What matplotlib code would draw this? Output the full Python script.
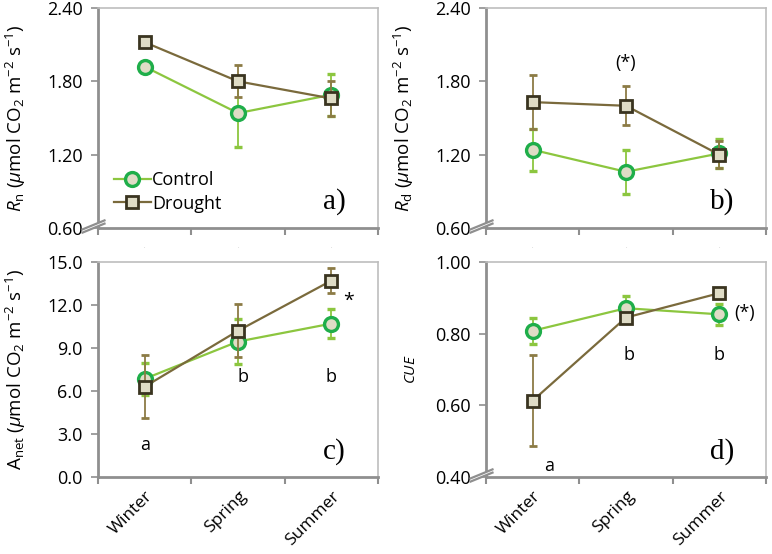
import matplotlib
matplotlib.use('Agg')
import matplotlib.pyplot as plt
from matplotlib.patches import Polygon

# ---------------- data ----------------
seasons = ['Winter', 'Spring', 'Summer']

rn_control = [1.92, 1.54, 1.69]
rn_control_err = [0.02, 0.28, 0.17]
rn_drought = [2.12, 1.80, 1.66]
rn_drought_err = [0.02, 0.13, 0.145]

rd_control = [1.24, 1.06, 1.21]
rd_control_err = [0.17, 0.18, 0.12]
rd_drought = [1.63, 1.60, 1.20]
rd_drought_err = [0.22, 0.16, 0.11]

anet_control = [6.85, 9.45, 10.7]
anet_control_err = [1.1, 1.6, 1.0]
anet_drought = [6.3, 10.2, 13.7]
anet_drought_err = [2.2, 1.85, 0.85]

cue_control = [0.808, 0.871, 0.854]
cue_control_err = [0.037, 0.035, 0.03]
cue_drought = [0.613, 0.845, 0.913]
cue_drought_err = [0.127, 0.008, 0.008]

# ---------------- style ----------------
plt.rcParams['font.family'] = ['Open Sans', 'DejaVu Sans']
plt.rcParams['mathtext.fontset'] = 'custom'
plt.rcParams['mathtext.rm'] = 'Open Sans'
plt.rcParams['mathtext.it'] = 'Open Sans:italic'

CTRL_LINE = '#8cc63f'
CTRL_EDGE = '#1fae4a'
DRT_LINE = '#7a6a3c'
DRT_EDGE = '#3a3420'
DRT_ERR = '#8c7b45'
FILL = '#dfdcc6'
SPINE = '#8f8f8f'
FRAME = '#bdbdbd'
FS = 13

fig = plt.figure(figsize=(7.72, 5.54), dpi=100)
W, H = 772.0, 554.0


def make_ax(left, top, right, bottom):
    return fig.add_axes([left / W, 1 - bottom / H, (right - left) / W, (bottom - top) / H])


def add_break(ax):
    # the "//" axis break at the bottom of the y axis, built in pixel space
    x0, y0 = ax.transAxes.transform((0, 0))
    x0 -= 4.5
    y0 += 1.5
    dx, dy, gap = 11, 4.5, 3.2
    pts = [(x0 - dx, y0 - dy - gap / 2), (x0 + dx, y0 + dy - gap / 2),
           (x0 + dx, y0 + dy + gap / 2), (x0 - dx, y0 - dy + gap / 2)]
    fig.patches.append(Polygon(pts, closed=True, facecolor='white', edgecolor='none',
                               zorder=5, clip_on=False, transform=None))
    for s in (-gap / 2, gap / 2):
        fig.lines.append(plt.Line2D([x0 - dx, x0 + dx], [y0 - dy + s, y0 + dy + s],
                                    color=SPINE, lw=1.6, transform=None, zorder=6))


def draw_panel(ax, ctrl, ctrl_err, drt, drt_err, ylim, yticks, fmt, ylabel, letter,
               broken, show_x, label_x=-0.25):
    x = list(range(len(seasons)))
    eb_c = ax.errorbar(x, ctrl, yerr=ctrl_err, color=CTRL_LINE, lw=1.6, marker='o', ms=10,
                       mfc=FILL, mec=CTRL_EDGE, mew=2.4, ecolor=CTRL_LINE, elinewidth=1.3,
                       capsize=3, capthick=1.3, zorder=3)
    eb_d = ax.errorbar(x, drt, yerr=drt_err, color=DRT_LINE, lw=1.6, marker='s', ms=9,
                       mfc=FILL, mec=DRT_EDGE, mew=2.0, ecolor=DRT_ERR, elinewidth=1.3,
                       capsize=3, capthick=1.3, zorder=4)
    ax.set_xlim(-0.5, len(seasons) - 0.5)
    ax.set_ylim(*ylim)
    ax.set_yticks(yticks)
    ax.set_yticklabels([fmt.format(v) for v in yticks], fontsize=FS)
    ax.tick_params(axis='y', length=5, width=1.2, color=SPINE, pad=6)

    ax.set_xticks([-0.5, 0.5, 1.5, 2.5], minor=True)
    ax.set_xticks(x)
    ax.tick_params(axis='x', which='minor', length=5, width=1.5, color=SPINE, direction='out')
    ax.tick_params(axis='x', which='major', length=0, pad=8)
    if show_x:
        ax.set_xticklabels(seasons, rotation=45, ha='right', rotation_mode='anchor', fontsize=12.5)
    else:
        ax.set_xticklabels([])
        for xi in x:
            ax.text(xi, -0.085, '.', transform=ax.get_xaxis_transform(), ha='center',
                    va='center', fontsize=4, color='#aaaaaa')

    for side in ('left', 'bottom'):
        ax.spines[side].set_color(SPINE)
        ax.spines[side].set_linewidth(2.0)
    for side in ('top', 'right'):
        ax.spines[side].set_color(FRAME)
        ax.spines[side].set_linewidth(1.2)

    ax.set_ylabel(ylabel, fontsize=13.5)
    ax.yaxis.set_label_coords(label_x, 0.5)
    ax.text(0.845, 0.12, letter, transform=ax.transAxes, fontsize=21,
            family='Liberation Serif', ha='center', va='center')
    if broken:
        add_break(ax)
    return eb_c[0], eb_d[0]


ax_a = make_ax(98, 8, 378, 228)
ax_b = make_ax(486, 8, 766, 228)
ax_c = make_ax(98, 262, 378, 477)
ax_d = make_ax(486, 262, 766, 477)

unit = r' ($\mu$mol CO$_2$ m$^{-2}$ s$^{-1}$)'
line_c, line_d = draw_panel(ax_a, rn_control, rn_control_err, rn_drought, rn_drought_err,
                            (0.6, 2.4), [0.6, 1.2, 1.8, 2.4], '{:.2f}',
                            r'$R_\mathrm{n}$' + unit, 'a)', True, False)
draw_panel(ax_b, rd_control, rd_control_err, rd_drought, rd_drought_err, (0.6, 2.4),
           [0.6, 1.2, 1.8, 2.4], '{:.2f}', r'$R_\mathrm{d}$' + unit, 'b)', True, False)
draw_panel(ax_c, anet_control, anet_control_err, anet_drought, anet_drought_err, (0, 15),
           [0, 3, 6, 9, 12, 15], '{:.1f}', r'A$_\mathrm{net}$' + unit, 'c)', False, True)
draw_panel(ax_d, cue_control, cue_control_err, cue_drought, cue_drought_err, (0.4, 1.0),
           [0.4, 0.6, 0.8, 1.0], '{:.2f}', r'$CUE$', 'd)', True, True, label_x=-0.24)
ax_d.yaxis.label.set_fontsize(11)

# legend in panel a (lines + markers only, no error bars)
ax_a.legend([line_c, line_d], ['Control', 'Drought'], loc='lower left',
            bbox_to_anchor=(0.02, 0.02), frameon=False, fontsize=FS,
            handlelength=2.0, handletextpad=0.1, labelspacing=0.3, borderaxespad=0.2)

# significance letters / marks
ax_b.text(1.0, 1.95, '(*)', ha='center', va='center', fontsize=FS)
ax_c.text(0, 2.2, 'a', ha='center', va='center', fontsize=FS)
ax_c.text(1.05, 7.0, 'b', ha='center', va='center', fontsize=FS)
ax_c.text(2.0, 7.0, 'b', ha='center', va='center', fontsize=FS)
ax_c.text(2.18, 12.3, '*', ha='center', va='center', fontsize=14)
ax_d.text(0.18, 0.43, 'a', ha='center', va='center', fontsize=FS)
ax_d.text(1.03, 0.74, 'b', ha='center', va='center', fontsize=FS)
ax_d.text(2.0, 0.74, 'b', ha='center', va='center', fontsize=FS)
ax_d.text(2.27, 0.858, '(*)', ha='center', va='center', fontsize=FS)

fig.savefig('out.png', dpi=100)
